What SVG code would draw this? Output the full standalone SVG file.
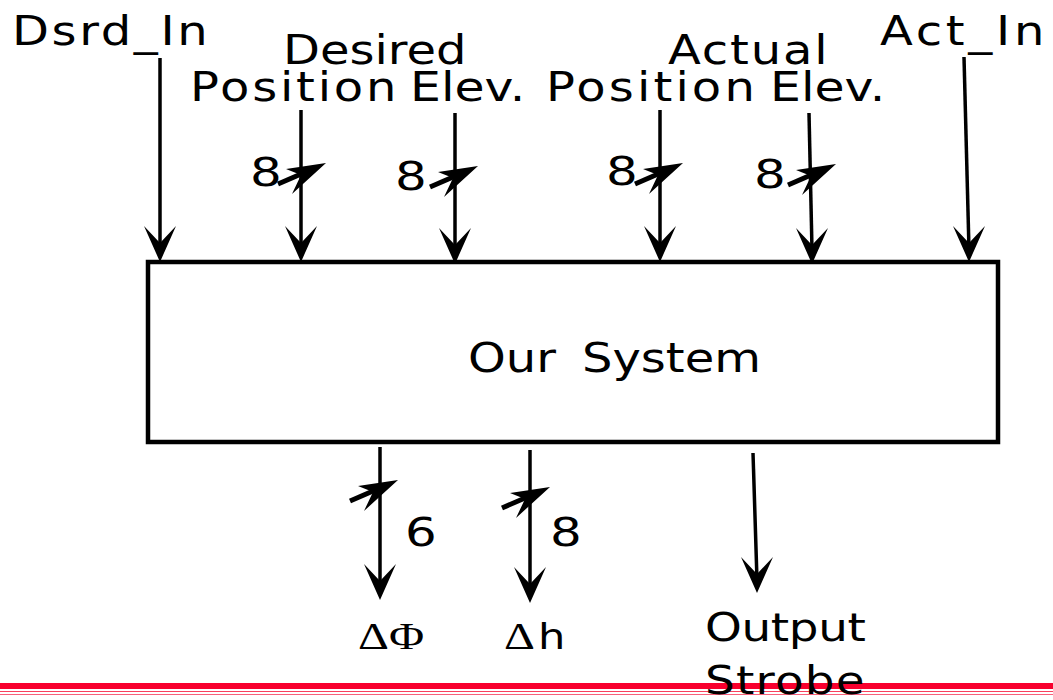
<svg xmlns="http://www.w3.org/2000/svg" width="1053" height="700" viewBox="0 0 1053 700">
<style>
.t{font-family:"DejaVu Sans","Liberation Sans",sans-serif;font-size:40px;fill:#000}
.n{font-family:"DejaVu Sans","Liberation Sans",sans-serif;font-size:39px;fill:#000}
.g{font-family:"Liberation Serif","DejaVu Serif",serif;font-size:37px;fill:#000}
.s{font-family:"DejaVu Sans","Liberation Sans",sans-serif;font-size:36px;fill:#000}
.w{stroke:#000;stroke-width:3.5;fill:none}
</style>
<defs>
<polygon id="ah" points="0,0 -16,-36 0,-19 16,-36" fill="#000"/>
<g id="bus">
<line x1="-48" y1="21" x2="-18" y2="8" stroke="#000" stroke-width="5"/>
<polygon points="0,0 -40,6 -25,12 -34,31" fill="#000"/>
</g>
</defs>
<rect x="0" y="0" width="1053" height="700" fill="#fff"/>
<g id="connectors">
<line class="w" x1="160" y1="58" x2="160" y2="250"/><use href="#ah" x="160" y="262"/>
<line class="w" x1="301" y1="110" x2="301" y2="250"/><use href="#ah" x="301" y="262"/>
<line class="w" x1="455" y1="113" x2="455" y2="250"/><use href="#ah" x="455" y="264"/>
<line class="w" x1="660" y1="110" x2="660" y2="250"/><use href="#ah" x="660" y="262"/>
<line class="w" x1="809" y1="113" x2="812" y2="250"/><use href="#ah" x="812" y="264"/>
<line class="w" x1="964" y1="57" x2="969" y2="250"/><use href="#ah" x="969" y="262"/>
<line class="w" x1="380" y1="447" x2="380" y2="588"/><use href="#ah" x="380" y="600"/>
<line class="w" x1="530" y1="450" x2="530" y2="590"/><use href="#ah" x="530" y="603"/>
<line class="w" x1="753" y1="453" x2="757" y2="580"/><use href="#ah" x="757" y="593"/>
<use href="#bus" x="326" y="163"/>
<use href="#bus" x="478" y="166"/>
<use href="#bus" x="683" y="163"/>
<use href="#bus" x="836" y="164"/>
<use href="#bus" x="398" y="480"/>
<use href="#bus" x="550" y="487"/>
</g>
<g id="system">
<rect x="148" y="262" width="850" height="180" fill="none" stroke="#000" stroke-width="4.5"/>
<text class="t" transform="translate(468,372) scale(1.2,1)">Our</text>
<text class="t" transform="translate(582,372) scale(1.2,1)">System</text>
</g>
<g id="dsrd-in"><text class="t" transform="translate(12,45) scale(1.2,1)" textLength="163" lengthAdjust="spacing">Dsrd_In</text></g>
<g id="desired-position">
<text class="t" transform="translate(283,64) scale(1.2,1)" textLength="153" lengthAdjust="spacing">Desired</text>
<text class="t" transform="translate(190,101) scale(1.2,1)" textLength="172" lengthAdjust="spacing">Position</text>
<text class="n" transform="translate(250,186) scale(1.28,1)">8</text>
</g>
<g id="desired-elev">
<text class="t" transform="translate(410,101) scale(1.2,1)" textLength="96" lengthAdjust="spacingAndGlyphs">Elev.</text>
<text class="n" transform="translate(395,190) scale(1.28,1)">8</text>
</g>
<g id="actual-position">
<text class="t" transform="translate(668,64) scale(1.2,1)" textLength="133" lengthAdjust="spacing">Actual</text>
<text class="t" transform="translate(546,101) scale(1.2,1)" textLength="174" lengthAdjust="spacing">Position</text>
<text class="n" transform="translate(606,185) scale(1.28,1)">8</text>
</g>
<g id="actual-elev">
<text class="t" transform="translate(770,101) scale(1.2,1)" textLength="96" lengthAdjust="spacingAndGlyphs">Elev.</text>
<text class="n" transform="translate(754,188) scale(1.28,1)">8</text>
</g>
<g id="act-in"><text class="t" transform="translate(880,45) scale(1.2,1)" textLength="137" lengthAdjust="spacing">Act_In</text></g>
<g id="delta-phi">
<text class="n" transform="translate(405,546) scale(1.28,1)">6</text>
<text class="g" transform="translate(358,649) scale(1.3,1)">ΔΦ</text>
</g>
<g id="delta-h">
<text class="n" transform="translate(550,546) scale(1.28,1)">8</text>
<text class="g" transform="translate(504,649) scale(1.3,1)">Δ</text>
<text class="s" transform="translate(538,649) scale(1.2,1)">h</text>
</g>
<g id="output-strobe">
<text class="n" transform="translate(705,641) scale(1.2,1)" textLength="134" lengthAdjust="spacing">Output</text>
<rect x="0" y="683" width="1053" height="6" fill="#f8002e"/>
<rect x="0" y="691" width="1053" height="1" fill="#f8405e"/>
<rect x="0" y="694" width="1053" height="1" fill="#f8607a"/>
<text class="n" transform="translate(705,694) scale(1.2,1)" textLength="133" lengthAdjust="spacing">Strobe</text>
</g>
</svg>
